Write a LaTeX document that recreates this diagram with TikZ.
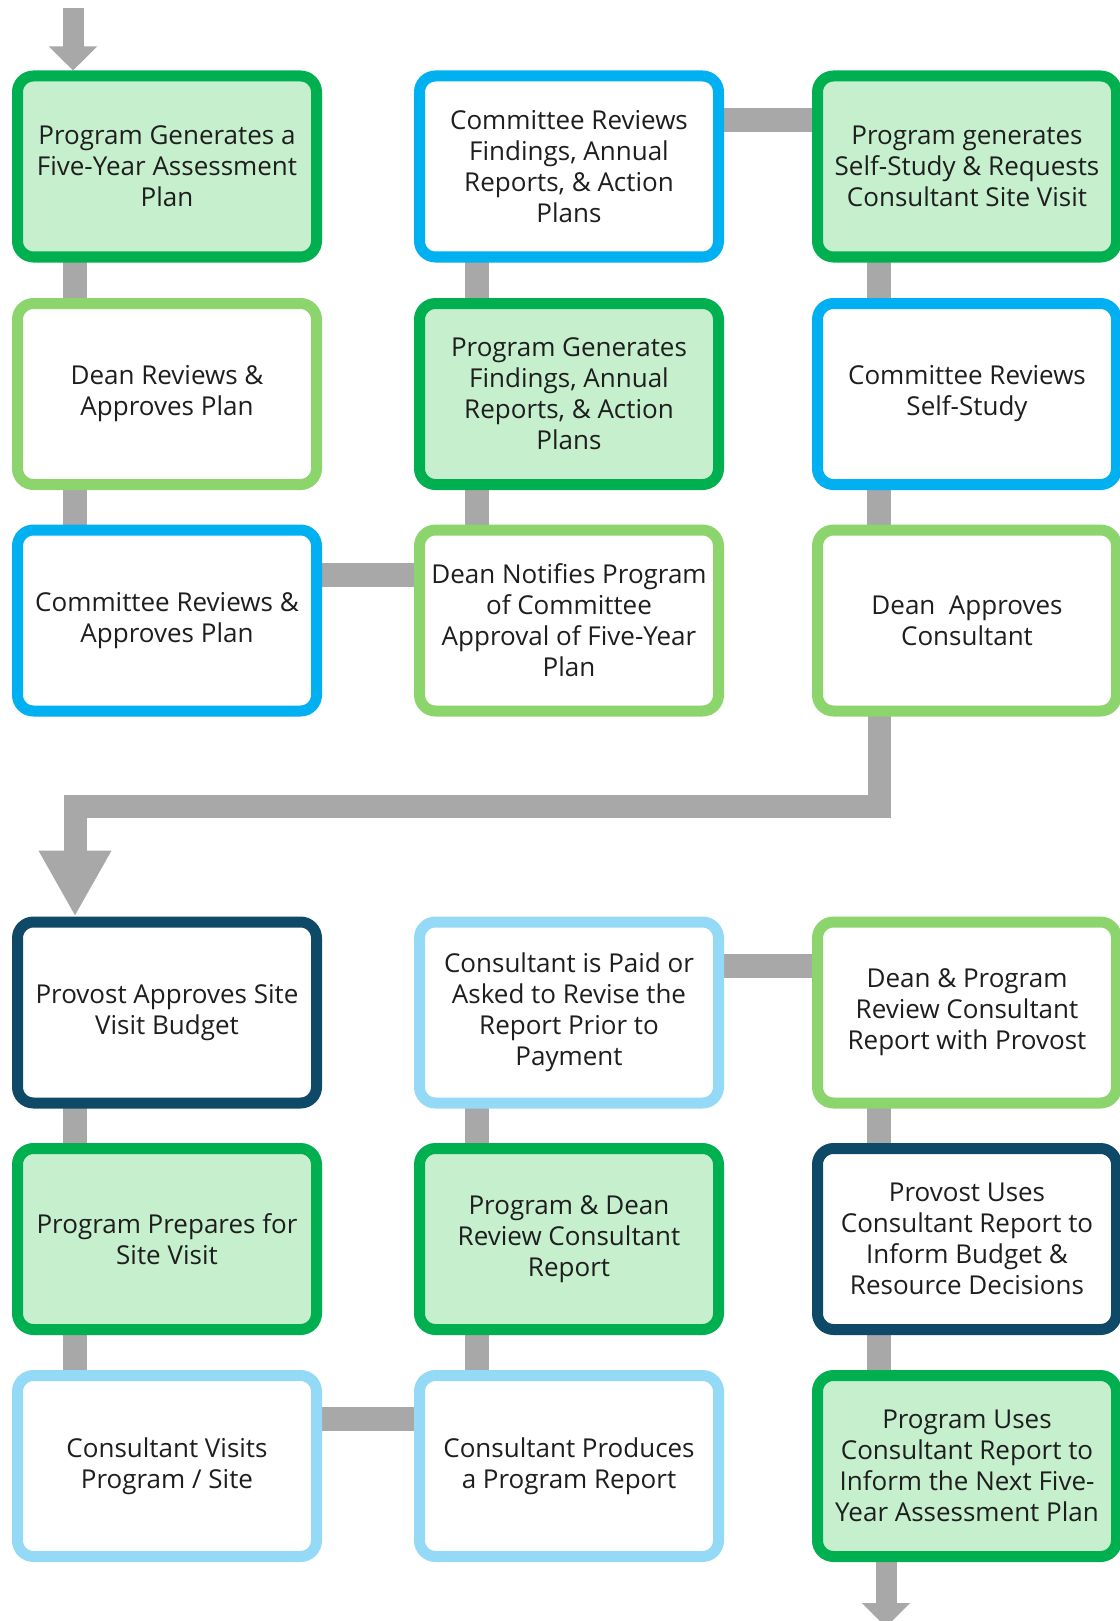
\documentclass[tikz,border=0pt]{standalone}
\usepackage{fontspec}
\setmainfont{Open Sans}
\usetikzlibrary{arrows.meta,backgrounds,calc}
\definecolor{dgreen}{RGB}{0,176,80}
\definecolor{lgreen}{RGB}{140,212,108}
\definecolor{gfill}{RGB}{198,239,206}
\definecolor{cblue}{RGB}{0,176,240}
\definecolor{lblue}{RGB}{148,217,245}
\definecolor{navy}{RGB}{14,74,104}
\definecolor{conngray}{RGB}{168,168,168}
\definecolor{txt}{RGB}{30,30,30}
\tikzset{
  box/.style={draw, line width=11pt, rounded corners=16pt, minimum width=299pt,
    minimum height=181pt, inner sep=0pt, align=center, text=txt,
    font=\fontsize{26}{31}\selectfont, fill=white},
  gbox/.style={box, draw=dgreen, fill=gfill},
  lgbox/.style={box, draw=lgreen},
  bbox/.style={box, draw=cblue},
  lbbox/.style={box, draw=lblue},
  nbox/.style={box, draw=navy},
  conn/.style={draw=conngray, line width=24pt},
  bigconn/.style={draw=conngray, line width=23pt, line join=miter,
    -{Triangle[length=66pt,width=68pt]}},
  endconn/.style={draw=conngray, line width=21pt,
    -{Triangle[length=24pt,width=47pt]}},
}
\begin{document}
\begin{tikzpicture}[x=1pt,y=-1pt]
\useasboundingbox (0,0) rectangle (1119,1621);
% columns / rows
\node[gbox]  (r1c1) at (167,166.5) {Program Generates a\\Five-Year Assessment\\Plan};
\node[lgbox] (r2c1) at (167,394) {Dean Reviews \&\\Approves Plan};
\node[bbox]  (r3c1) at (167,620.5) {Committee Reviews \&\\Approves Plan};
\node[bbox]  (r1c2) at (569,166.5) {Committee Reviews\\Findings, Annual\\Reports, \& Action\\Plans};
\node[gbox]  (r2c2) at (569,394) {Program Generates\\Findings, Annual\\Reports, \& Action\\Plans};
\node[lgbox] (r3c2) at (569,620.5) {Dean Notifies Program\\of Committee\\Approval of Five-Year\\Plan};
\node[gbox]  (r1c3) at (967,166.5) {Program generates\\Self-Study \& Requests\\Consultant Site Visit};
\node[bbox]  (r2c3) at (967,394) {Committee Reviews\\Self-Study};
\node[lgbox] (r3c3) at (967,620.5) {Dean\ \ Approves\\Consultant};
\node[nbox]  (r4c1) at (167,1012.5) {Provost Approves Site\\Visit Budget};
\node[gbox]  (r5c1) at (167,1239) {Program Prepares for\\Site Visit};
\node[lbbox] (r6c1) at (167,1466) {Consultant Visits\\Program / Site};
\node[lbbox] (r4c2) at (569,1012.5) {Consultant is Paid or\\Asked to Revise the\\Report Prior to\\Payment};
\node[gbox]  (r5c2) at (569,1239) {Program \& Dean\\Review Consultant\\Report};
\node[lbbox] (r6c2) at (569,1466) {Consultant Produces\\a Program Report};
\node[lgbox] (r4c3) at (967,1012.5) {Dean \& Program\\Review Consultant\\Report with Provost};
\node[nbox]  (r5c3) at (967,1239) {Provost Uses\\Consultant Report to\\Inform Budget \&\\Resource Decisions};
\node[gbox]  (r6c3) at (967,1466) {Program Uses\\Consultant Report to\\Inform the Next Five-\\Year Assessment Plan};
% connector helper coordinates
\coordinate (cx1) at (75,0);
\coordinate (cx2) at (477,0);
\coordinate (cx3) at (879,0);
\coordinate (elbow) at (75,806);
\coordinate (topstart) at (73,8);
\coordinate (endtip) at (886,1627);
\begin{pgfonlayer}{background}
  % top half verticals
  \draw[conn] (r1c1 -| cx1) -- (r2c1 -| cx1);
  \draw[conn] (r2c1 -| cx1) -- (r3c1 -| cx1);
  \draw[conn] (r1c2 -| cx2) -- (r2c2 -| cx2);
  \draw[conn] (r2c2 -| cx2) -- (r3c2 -| cx2);
  \draw[conn] (r1c3 -| cx3) -- (r2c3 -| cx3);
  \draw[conn] (r2c3 -| cx3) -- (r3c3 -| cx3);
  % top half horizontals
  \draw[conn] ([yshift=-50pt]r3c1.north) -- ([yshift=-50pt]r3c2.north);
  \draw[conn] ([yshift=-50pt]r1c2.north) -- ([yshift=-50pt]r1c3.north);
  % big connector
  \draw[bigconn] (r3c3 -| cx3) |- (elbow) -- (r4c1.north -| elbow);
  % bottom half verticals
  \draw[conn] (r4c1 -| cx1) -- (r5c1 -| cx1);
  \draw[conn] (r5c1 -| cx1) -- (r6c1 -| cx1);
  \draw[conn] (r4c2 -| cx2) -- (r5c2 -| cx2);
  \draw[conn] (r5c2 -| cx2) -- (r6c2 -| cx2);
  \draw[conn] (r4c3 -| cx3) -- (r5c3 -| cx3);
  \draw[conn] (r5c3 -| cx3) -- (r6c3 -| cx3);
  % bottom half horizontals
  \draw[conn] ([yshift=-49pt]r6c1.north) -- ([yshift=-49pt]r6c2.north);
  \draw[conn] ([yshift=-49pt]r4c2.north) -- ([yshift=-49pt]r4c3.north);
  % entry and exit arrows
  \draw[endconn] (topstart) -- (r1c1.north -| topstart);
  \draw[endconn] (r6c3.south -| endtip) -- (endtip);
\end{pgfonlayer}
\end{tikzpicture}
\end{document}
